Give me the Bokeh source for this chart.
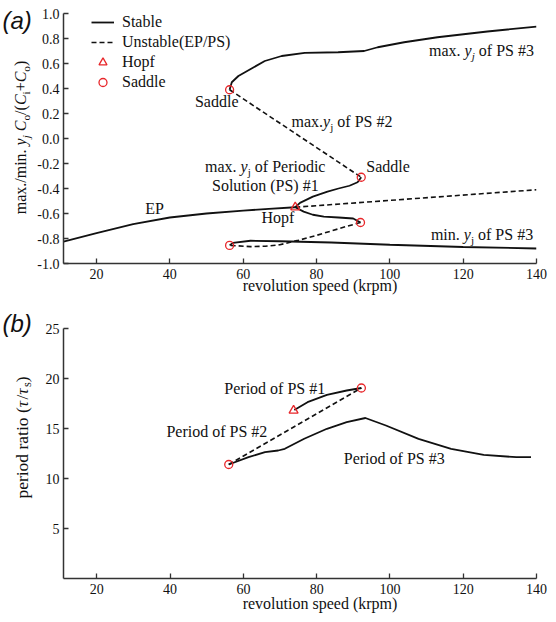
import math
from bokeh.plotting import figure
from bokeh.layouts import column, row
from bokeh.models import Label, Legend, LegendItem, FixedTicker, PrintfTickFormatter, Range1d
from bokeh.embed import file_html
from bokeh.resources import INLINE

# ---------------- data: panel (a) ----------------
ep_stable_x = [11, 20, 30, 40, 50, 60, 67, 74.2]
ep_stable_y = [-0.825, -0.757, -0.685, -0.632, -0.60, -0.577, -0.563, -0.55]
ep_unstable_x = [74.2, 140]
ep_unstable_y = [-0.55, -0.41]

ps1_max_x = [74.2, 75.5, 79, 83, 86, 89, 91.2, 92.2]
ps1_max_y = [-0.55, -0.515, -0.465, -0.425, -0.40, -0.378, -0.35, -0.31]
ps1_min_x = [74.2, 76.5, 79, 82, 86, 90, 92.0]
ps1_min_y = [-0.55, -0.585, -0.61, -0.625, -0.632, -0.64, -0.672]

ps2_max_x = [56.3, 92.2]
ps2_max_y = [0.39, -0.31]
ps2_min_x = [92.0, 88, 84, 80, 75, 70, 66, 62, 56.3]
ps2_min_y = [-0.672, -0.705, -0.74, -0.775, -0.815, -0.85, -0.862, -0.865, -0.855]

ps3_max_x = [56.3, 56.9, 58.7, 62.3, 65.9, 70.5, 76.8, 85.9, 93, 96.7, 103.9, 113, 126.6, 140]
ps3_max_y = [0.39, 0.45, 0.50, 0.56, 0.62, 0.66, 0.685, 0.69, 0.70, 0.73, 0.77, 0.81, 0.856, 0.895]
ps3_min_x = [56.3, 57.2, 62, 70, 84, 100, 120, 140]
ps3_min_y = [-0.855, -0.835, -0.818, -0.822, -0.832, -0.85, -0.868, -0.88]

hopf_a_x = [74.2]
hopf_a_y = [-0.55]
saddle_a_x = [56.3, 92.2, 92.0, 56.3]
saddle_a_y = [0.39, -0.31, -0.672, -0.855]

# ---------------- data: panel (b) ----------------
period1_x = [73.9, 77.5, 82.8, 88.2, 92.2]
period1_y = [16.85, 17.63, 18.37, 18.8, 19.05]
period2_x = [56.0, 92.2]
period2_y = [11.4, 19.05]
period3_x = [56.0, 61.4, 65.9, 69.5, 71.3, 76.6, 82.8, 88.2, 93.3, 98.9, 107.8, 116.7, 125.6, 134.5, 138.5]
period3_y = [11.4, 12.13, 12.63, 12.8, 12.97, 13.97, 14.97, 15.63, 16.05, 15.3, 13.97, 12.97, 12.37, 12.13, 12.13]

hopf_b_x = [73.7]
hopf_b_y = [16.8]
saddle_b_x = [92.2, 56.0]
saddle_b_y = [19.05, 11.4]

x_ticks = [20, 40, 60, 80, 100, 120, 140]
y_ticks_a = [-1.0, -0.8, -0.6, -0.4, -0.2, 0.0, 0.2, 0.4, 0.6, 0.8, 1.0]
y_ticks_b = [5, 10, 15, 20, 25]

SERIF = "Liberation Serif"
LINE = "#111111"
RED = "#e8262a"
DASH = "5 3"
STRIP = 34   # width of the strip holding the panel letters and the y titles
TOTAL_H = 622

# advance widths (1/1000 em) of a Times-metric serif face
_W = {" ": 250, "!": 333, "#": 500, "(": 333, ")": 333, "+": 564, ".": 250, "/": 278,
      "A": 722, "C": 667, "E": 611, "H": 722, "P": 556, "S": 556, "U": 722,
      "a": 444, "b": 500, "c": 444, "d": 500, "e": 444, "f": 333, "g": 500, "h": 500,
      "i": 278, "j": 278, "k": 500, "l": 278, "m": 778, "n": 500, "o": 500, "p": 500,
      "r": 333, "s": 389, "t": 278, "u": 500, "v": 500, "x": 500, "y": 500, "τ": 440}
_WI = {"y": 444, "C": 667, "j": 278, "τ": 440}


def text_width(t, size, italic):
    tot = 0
    for ch in t:
        if italic and ch in _WI:
            tot += _WI[ch]
        elif ch.isdigit():
            tot += 500
        else:
            tot += _W.get(ch, 500)
    return tot * size / 1000.0


def rich(fig, x, y, parts, size=16, angle=0.0, align="left"):
    """Mixed-style text centred vertically on (x, y): parts are (text, italic, subscript)."""
    sub_size = size * 0.7
    mid = 0.3375  # middle of the font box above the baseline, in em
    drop = mid * size + size * 0.22 - mid * sub_size
    sizes = [sub_size if sub else size for (_, _, sub) in parts]
    widths = [text_width(t, s, it) for (t, it, _), s in zip(parts, sizes)]
    off = -sum(widths) / 2 if align == "center" else 0.0
    for (t, it, sub), s, w in zip(parts, sizes, widths):
        body = t.lstrip(" ")
        lead = text_width(t[:len(t) - len(body)], s, False)
        shift = drop if sub else 0.0
        if body:
            pos = off + lead
            xo, yo = (pos, -shift) if angle == 0 else (shift, pos)
            fig.add_layout(Label(x=x, y=y, x_offset=xo, y_offset=yo, text=body, angle=angle,
                                 text_font=SERIF, text_font_size=f"{s:.1f}px",
                                 text_font_style="italic" if it else "normal",
                                 text_baseline="middle", text_align="left",
                                 text_color="#111111"))
        off += w


def style(fig, yticks, yfmt, title_standoff):
    fig.title.visible = False
    fig.xgrid.visible = False
    fig.ygrid.visible = False
    fig.outline_line_color = None
    for ax in (fig.xaxis[0], fig.yaxis[0]):
        ax.axis_line_color = "#333333"
        ax.axis_line_width = 1.5
        ax.major_tick_line_color = "#333333"
        ax.major_tick_line_width = 1.3
        ax.major_tick_in = 5
        ax.major_tick_out = 0
        ax.minor_tick_line_color = None
        ax.major_label_text_font = SERIF
        ax.major_label_text_font_size = "14px"
        ax.major_label_text_color = "#111111"
    xa = fig.xaxis[0]
    xa.ticker = FixedTicker(ticks=x_ticks)
    xa.formatter = PrintfTickFormatter(format="%d")
    xa.major_label_standoff = 5
    xa.axis_label = "\u00a0" * 10 + "revolution speed (krpm)"
    xa.axis_label_text_font = SERIF
    xa.axis_label_text_font_size = "16px"
    xa.axis_label_text_font_style = "normal"
    xa.axis_label_text_color = "#111111"
    xa.axis_label_standoff = title_standoff
    ya = fig.yaxis[0]
    ya.ticker = FixedTicker(ticks=yticks)
    ya.formatter = PrintfTickFormatter(format=yfmt)
    ya.major_label_standoff = 4


# ---------------- panel (a) ----------------
pa = figure(width=556 - STRIP, height=300, x_range=(11, 140), y_range=(-1.0, 1.0),
            output_backend="svg", toolbar_location=None,
            min_border_left=61 - STRIP, min_border_right=20, min_border_top=13, min_border_bottom=37,
            background_fill_color="white", border_fill_color="white")
style(pa, y_ticks_a, "%.1f", -5)

r_stable = pa.line(ep_stable_x, ep_stable_y, line_color=LINE, line_width=1.8)
r_unstable = pa.line(ep_unstable_x, ep_unstable_y, line_color=LINE, line_width=1.6, line_dash=DASH)
pa.line(ps1_max_x, ps1_max_y, line_color=LINE, line_width=1.8)
pa.line(ps1_min_x, ps1_min_y, line_color=LINE, line_width=1.8)
pa.line(ps2_max_x, ps2_max_y, line_color=LINE, line_width=1.6, line_dash=DASH)
pa.line(ps2_min_x, ps2_min_y, line_color=LINE, line_width=1.6, line_dash=DASH)
pa.line(ps3_max_x, ps3_max_y, line_color=LINE, line_width=1.8)
pa.line(ps3_min_x, ps3_min_y, line_color=LINE, line_width=1.8)
r_hopf = pa.scatter(hopf_a_x, hopf_a_y, marker="triangle", size=9, fill_color=None,
                    line_color=RED, line_width=1.3)
r_saddle = pa.scatter(saddle_a_x, saddle_a_y, marker="circle", size=8, fill_color=None,
                      line_color=RED, line_width=1.3)

legend = Legend(items=[LegendItem(label="Stable", renderers=[r_stable]),
                       LegendItem(label="Unstable(EP/PS)", renderers=[r_unstable]),
                       LegendItem(label="Hopf", renderers=[r_hopf]),
                       LegendItem(label="Saddle", renderers=[r_saddle])],
                location=(28, 171), padding=0, spacing=0, glyph_width=23, glyph_height=20,
                label_height=20, label_standoff=8, border_line_color=None,
                background_fill_alpha=0, label_text_font=SERIF, label_text_font_size="16px",
                label_text_color="#111111")
pa.add_layout(legend)

rich(pa, 110.7, 0.704, [("max. ", False, False), ("y", True, False), ("j", True, True),
                        (" of PS #3", False, False)])
rich(pa, 46.85, 0.296, [("Saddle", False, False)])
rich(pa, 73.2, 0.136, [("max.", False, False), ("y", True, False), ("j", False, True),
                       (" of PS #2", False, False)])
rich(pa, 49.6, -0.224, [("max. ", False, False), ("y", True, False), ("j", False, True),
                        (" of Periodic", False, False)])
rich(pa, 51.5, -0.372, [("Solution (PS) #1", False, False)])
rich(pa, 93.6, -0.224, [("Saddle", False, False)])
rich(pa, 33.3, -0.556, [("EP", False, False)])
rich(pa, 65.0, -0.63, [("Hopf", False, False)])
rich(pa, 111.2, -0.768, [("min. ", False, False), ("y", True, False), ("j", False, True),
                         (" of PS #3", False, False)])

# ---------------- panel (b) ----------------
pb = figure(width=556 - STRIP, height=TOTAL_H - 300, x_range=(10.9, 140), y_range=(0, 25),
            output_backend="svg", toolbar_location=None,
            min_border_left=61 - STRIP, min_border_right=11, min_border_top=28, min_border_bottom=44,
            background_fill_color="white", border_fill_color="white")
style(pb, y_ticks_b, "%d", -2)

pb.line(period1_x, period1_y, line_color=LINE, line_width=1.8)
pb.line(period2_x, period2_y, line_color=LINE, line_width=1.6, line_dash=DASH)
pb.line(period3_x, period3_y, line_color=LINE, line_width=1.8)
pb.scatter(hopf_b_x, hopf_b_y, marker="triangle", size=9, fill_color=None,
           line_color=RED, line_width=1.3)
pb.scatter(saddle_b_x, saddle_b_y, marker="circle", size=8, fill_color=None,
           line_color=RED, line_width=1.3)

rich(pb, 54.8, 19.0, [("Period of PS #1", False, False)])
rich(pb, 39.0, 14.7, [("Period of PS #2", False, False)])
rich(pb, 87.4, 12.0, [("Period of PS #3", False, False)])

# ------------- left strip: panel letters and y titles (y = pixel row) -------------
strip = figure(width=STRIP, height=TOTAL_H, x_range=Range1d(0, STRIP), y_range=Range1d(TOTAL_H, 0),
               x_axis_location=None, y_axis_location=None, min_border=0,
               output_backend="svg", toolbar_location=None,
               background_fill_color="white", border_fill_color="white")
strip.title.visible = False
strip.outline_line_color = None
strip.grid.visible = False

for letter, yc in (("(a)", 20), ("(b)", 323)):
    strip.add_layout(Label(x=2, y=yc, text=letter, text_font="Liberation Sans",
                           text_font_size="24px", text_font_style="italic",
                           text_baseline="middle", text_color="#111111"))

rich(strip, 20, 137, [("max./min. ", False, False), ("y", True, False), ("j", True, True),
                      (" ", False, False), ("C", True, False), ("o", False, True),
                      ("/(", False, False), ("C", True, False), ("i", False, True),
                      ("+", False, False), ("C", True, False), ("o", False, True),
                      (")", False, False)], angle=math.pi / 2, align="center")
rich(strip, 21, 437, [("period ratio (", False, False), ("τ", True, False), ("/", False, False),
                      ("τ", True, False), ("s", False, True), (")", False, False)],
     size=17.5, angle=math.pi / 2, align="center")

layout = row(strip, column(pa, pb, spacing=0), spacing=0)
open("out.html", "w").write(file_html(layout, INLINE))
